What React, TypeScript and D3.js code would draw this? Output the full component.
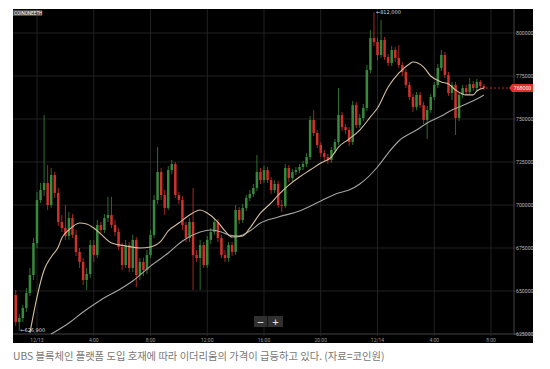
import React from 'react';
import * as d3 from 'd3';

// 15분봉 (12/12 22:30 ~ 12/14 07:30), 코인원 ETH/KRW
const startTime = new Date(2017, 11, 12, 22, 30);
const firstOpen = 647700;
const closes = [
  632000, 634300, 640100, 648800, 659300, 677900, 702900, 708700, 712800, 700000,
  717400, 707000, 690100, 686600, 682000, 692400, 682600, 672700, 666900, 656400,
  659900, 676700, 670900, 688400, 685500, 692400, 694200, 688400, 684300, 675600,
  665100, 676700, 663400, 679700, 659300, 666900, 662200, 670900, 682600, 702900,
  719200, 705800, 698300, 720300, 723800, 705800, 702900, 688400, 680800, 690100,
  670900, 669200, 676700, 665100, 679700, 684300, 690100, 680800, 670900, 669200,
  676700, 672700, 697100, 691300, 698300, 704100, 706400, 709900, 719200, 714500,
  720300, 714500, 708700, 712200, 700000, 699400, 721500, 715700, 719200, 720300,
  722100, 723800, 727900, 749400, 741900, 734900, 730200, 727900, 726200, 732000,
  736600, 752300, 745300, 743600, 736600, 758100, 746500, 750600, 756400, 778500,
  797100, 794800, 787200, 795900, 786000, 782600, 790100, 785500, 781400, 777300,
  769800, 762800, 757000, 764000, 758100, 749400, 755200, 762800, 769800, 779700,
  787200, 775600, 765100, 769800, 750600, 764000, 768000, 765700, 770300, 768000,
  771500, 769200, 768000,
];
const highs = [
  650600, 636600, 641900, 651700, 663400, 680800, 707600, 712800, 752300, 723300,
  721500, 719200, 709900, 694200, 700000, 695900, 694800, 685500, 675000, 669200,
  663400, 679700, 679700, 691300, 690100, 694800, 704700, 704700, 691300, 686600,
  677900, 679700, 678500, 682600, 681400, 669200, 669200, 673800, 685500, 705800,
  733700, 721500, 708700, 722700, 726200, 725000, 707600, 705200, 690100, 692400,
  709900, 673800, 679700, 678500, 682000, 686600, 692400, 691900, 682600, 673800,
  678500, 678500, 700000, 698800, 700600, 705800, 708700, 712200, 729100, 721500,
  722700, 722100, 716300, 714500, 714000, 702900, 723800, 723300, 720900, 722100,
  723800, 725600, 730200, 751700, 755200, 743600, 736600, 732000, 729700, 733700,
  738400, 768000, 754100, 747100, 745300, 760500, 759900, 752900, 758700, 781400,
  801700, 812000, 797100, 807600, 797700, 787800, 792400, 791900, 793000, 783100,
  779100, 771500, 764500, 765700, 765700, 759900, 757600, 764500, 771500, 782000,
  790100, 789000, 777300, 771500, 771500, 765700, 769800, 769800, 773800, 772100,
  773300, 772700, 770300,
];
const lows = [
  629700, 626900, 632000, 637800, 647100, 656400, 675000, 701200, 705200, 697100,
  698300, 704100, 687800, 684300, 679700, 679700, 680800, 670300, 663400, 653500,
  650600, 657600, 666900, 669200, 683100, 683700, 690100, 686600, 682000, 673800,
  662200, 663400, 661000, 661000, 652300, 656400, 658700, 659900, 669200, 680800,
  700600, 702900, 694200, 697100, 718000, 704100, 700600, 685500, 678500, 678500,
  650600, 666900, 650600, 663400, 663400, 677300, 682600, 678500, 669200, 666900,
  666900, 670300, 670900, 689000, 689500, 696500, 702300, 704700, 708100, 712200,
  712800, 712800, 706400, 707000, 698300, 695900, 698300, 713400, 714000, 717400,
  718600, 720300, 722100, 726200, 740100, 733100, 727900, 725600, 723800, 724400,
  730200, 734900, 743000, 741300, 734300, 734900, 744800, 744800, 748800, 754700,
  776700, 792400, 784300, 785500, 784300, 780800, 780800, 783100, 779700, 775000,
  768000, 761000, 754100, 755200, 756400, 747100, 738400, 753500, 761000, 768000,
  777900, 773800, 763400, 761000, 740700, 748800, 762200, 764000, 764000, 766300,
  766300, 767400, 766900,
];

// 이동평균선 (차트에서 읽은 값, 봉 인덱스 기준)
const maFastIdx = [4, 6, 8, 10, 12, 13, 15, 18, 20, 22, 24, 27, 31, 35, 38, 41, 43, 46, 49, 52, 54, 57, 59, 61, 64, 66, 69, 72, 74, 77, 80, 83, 86, 89, 91, 94, 97, 100, 102, 105, 108, 111, 112, 115, 117, 120, 122, 124, 127, 129, 130, 132];
const maFastVal = [625600, 646500, 662200, 669800, 675600, 680800, 685500, 689500, 689000, 686600, 683100, 677900, 676200, 675000, 675600, 679100, 684900, 689500, 694200, 697100, 695300, 690100, 684900, 681400, 682000, 686600, 695300, 701200, 705800, 711600, 716300, 720300, 724400, 727900, 733700, 738400, 743600, 751200, 756400, 768600, 776700, 782000, 783100, 780200, 775000, 771500, 770300, 766900, 764000, 764000, 766300, 768000];
const maSlowIdx = [10, 15, 19, 24, 29, 33, 38, 43, 47, 52, 55, 58, 60, 63, 66, 69, 74, 80, 86, 91, 94, 97, 102, 105, 108, 113, 116, 120, 123, 127, 130, 132];
const maSlowVal = [625000, 631400, 637800, 644800, 650600, 655800, 664500, 672100, 679100, 684300, 685500, 684300, 682600, 682000, 684900, 689500, 693000, 696500, 702300, 707000, 708700, 712200, 722100, 730200, 737200, 743600, 747700, 751700, 755200, 758700, 761600, 764000];

const priceTicks = [625000, 650000, 675000, 700000, 725000, 750000, 775000, 800000];
const symbol = 'COINONEETH';
const highLabel = '←812,000';
const lowLabel = '←626,900';
const lastPrice = 768000;
const caption = 'UBS 블록체인 플랫폼 도입 호재에 따라 이더리움의 가격이 급등하고 있다. (자료=코인원)';

const App = () => {
  const left = 13, right = 514, top = 9, bottom = 334;
  const x = d3.scaleTime()
    .domain([new Date(2017, 11, 13, 0, 0), new Date(2017, 11, 14, 8, 0)])
    .range([37, 491]);
  const y = d3.scaleLinear().domain([625000, 800000]).range([334, 33]);

  const times = closes.map((_, i) => d3.timeMinute.offset(startTime, i * 15));
  const opens = closes.map((c, i) => (i === 0 ? firstOpen : closes[i - 1]));
  const timeTicks = x.ticks(d3.timeHour.every(4) as any);
  const fmtTime = (d: Date) => (d.getHours() === 0 ? d3.timeFormat('%-m/%-d')(d) : d.getHours() + ':00');

  const maLine = d3.line<[number, number]>()
    .x(d => x(times[d[0]]))
    .y(d => y(d[1]))
    .curve(d3.curveMonotoneX);
  const fast = maFastIdx.map((k, i) => [k, maFastVal[i]] as [number, number]);
  const slow = maSlowIdx.map((k, i) => [k, maSlowVal[i]] as [number, number]);

  const up = '#378a3c';
  const down = '#cf312c';
  const lastX = x(times[times.length - 1]);
  const ly = y(lastPrice);

  return (
    <svg width={550} height={369} style={{ position: 'absolute', left: 0, top: 0 }}>
      <rect x={0} y={0} width={550} height={369} fill="#fff" />
      <rect x={13} y={9} width={520} height={334} fill="#000" />

      {priceTicks.map(p => (
        <line key={p} x1={left} x2={right + 2} y1={y(p)} y2={y(p)} stroke={p === 625000 ? '#555' : '#2a2a2a'} strokeWidth={0.8} />
      ))}
      {timeTicks.map(t => (
        <line key={+t} x1={x(t)} x2={x(t)} y1={top} y2={bottom + 2} stroke="#2a2a2a" strokeWidth={0.8} />
      ))}
      <line x1={right} x2={right} y1={top} y2={bottom} stroke="#555" strokeWidth={0.8} />
      <line x1={right} x2={533} y1={bottom} y2={bottom} stroke="#555" strokeWidth={0.8} />

      <g>
        {closes.map((c, i) => {
          const o = opens[i];
          const cx = x(times[i]);
          const col = c >= o ? up : down;
          const y1 = y(Math.max(o, c));
          const h = Math.max(0.8, y(Math.min(o, c)) - y1);
          return (
            <g key={i}>
              <line x1={cx} x2={cx} y1={y(highs[i])} y2={y(lows[i])} stroke={col} strokeWidth={0.8} />
              <rect x={cx - 1.25} y={y1} width={2.5} height={h} fill={col} />
            </g>
          );
        })}
      </g>

      <path d={maLine(slow) || ''} fill="none" stroke="#a4a4a4" strokeWidth={1.1} />
      <path d={maLine(fast) || ''} fill="none" stroke="#d6bf9f" strokeWidth={1.1} />

      {priceTicks.map(p => (
        <text key={p} x={516} y={y(p)} dy="0.35em" fontSize={5.2} fill="#bbb" fontFamily="Roboto, sans-serif">{p}</text>
      ))}
      {timeTicks.map(t => (
        <text key={+t} x={x(t)} y={341.5} textAnchor="middle" fontSize={5} fill="#999" fontFamily="Roboto, sans-serif">{fmtTime(t)}</text>
      ))}

      <line x1={lastX + 2} x2={509} y1={ly} y2={ly} stroke={down} strokeWidth={0.9} strokeDasharray="2,2" />
      <path d={`M509,${ly} L512,${ly - 4} L533,${ly - 4} L533,${ly + 4} L512,${ly + 4} Z`} fill="#e0302c" />
      <text x={522.5} y={ly} dy="0.35em" textAnchor="middle" fontSize={5.2} fill="#fff" fontFamily="Roboto, sans-serif">{lastPrice}</text>

      <rect x={13} y={10} width={29} height={6} fill="#4a4a4a" />
      <text x={14} y={14.8} fontSize={4.6} fill="#fff" fontFamily="Roboto, sans-serif">{symbol}</text>
      <text x={x(times[101]) + 2} y={y(812000)} dy="0.35em" fontSize={5} fill="#ddd" fontFamily="'DejaVu Sans', sans-serif">{highLabel}</text>
      <text x={x(times[1]) + 1} y={y(626900)} dy="0.35em" fontSize={5} fill="#ddd" fontFamily="'DejaVu Sans', sans-serif">{lowLabel}</text>

      <rect x={254} y={316} width={29} height={11} fill="#303030" />
      <line x1={267.5} x2={267.5} y1={316} y2={327} stroke="#111" strokeWidth={1} />
      <text x={260.5} y={321.5} dy="0.35em" textAnchor="middle" fontSize={9} fill="#fff" fontFamily="DejaVu Sans, sans-serif">−</text>
      <text x={275.5} y={321.5} dy="0.35em" textAnchor="middle" fontSize={9} fill="#fff" fontFamily="DejaVu Sans, sans-serif">+</text>

      <text x={13} y={360} fontSize={10.3} fill="#777" fontFamily="'Noto Sans CJK KR', sans-serif">{caption}</text>
    </svg>
  );
};

export default App;
